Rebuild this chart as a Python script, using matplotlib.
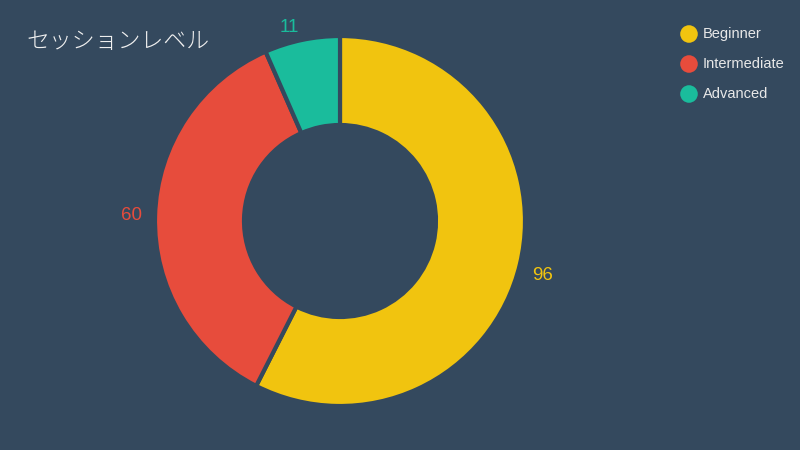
import matplotlib
matplotlib.use('Agg')
import matplotlib.pyplot as plt

# ---------- Data ----------
levels = ['Beginner', 'Intermediate', 'Advanced']
counts = [96, 60, 11]
colors = ['#f1c40f', '#e74c3c', '#1abc9c']
title = 'セッションレベル'

BG = '#34495e'

fig = plt.figure(figsize=(8, 4.5), dpi=100, facecolor=BG)
ax = fig.add_axes([0, 0, 1, 1])
ax.set_facecolor(BG)

# donut, drawn in pixel-like data coords (y up)
cx, cy, r_out, r_in = 340, 450 - 221, 185, 96
wedges, texts = ax.pie(counts, colors=colors, startangle=90, counterclock=False,
                       center=(cx, cy), radius=r_out, labels=[str(c) for c in counts],
                       labeldistance=1.07, frame=True,
                       wedgeprops=dict(width=r_out - r_in, edgecolor=BG, linewidth=3),
                       textprops=dict(fontsize=13.5, family=['Liberation Sans', 'DejaVu Sans']))
for t, c in zip(texts, colors):
    t.set_color(c)
    # pie picks the side from absolute x, so redo it relative to the centre
    x, y = t.get_position()
    t.set_ha('left' if x > cx else 'right')
    t.set_va('top' if y < cy - 20 else 'center')
ax.set_xlim(0, 800)
ax.set_ylim(0, 450)
ax.set_aspect('equal')
ax.axis('off')

# title
ax.text(26, 450 - 41, title, color='#f0f0f0', fontsize=16.5, weight='light',
        family=['Noto Sans CJK JP', 'DejaVu Sans'], ha='left', va='center')

# legend
for i, (lab, c) in enumerate(zip(levels, colors)):
    y = 450 - (34 + 30 * i)
    ax.scatter([689], [y], s=160, color=c, edgecolors='none')
    ax.text(703, y, lab, color='#e8e8e8', fontsize=10.5,
            family=['Liberation Sans', 'DejaVu Sans'], ha='left', va='center')

fig.savefig('out.png', dpi=100, facecolor=BG)
